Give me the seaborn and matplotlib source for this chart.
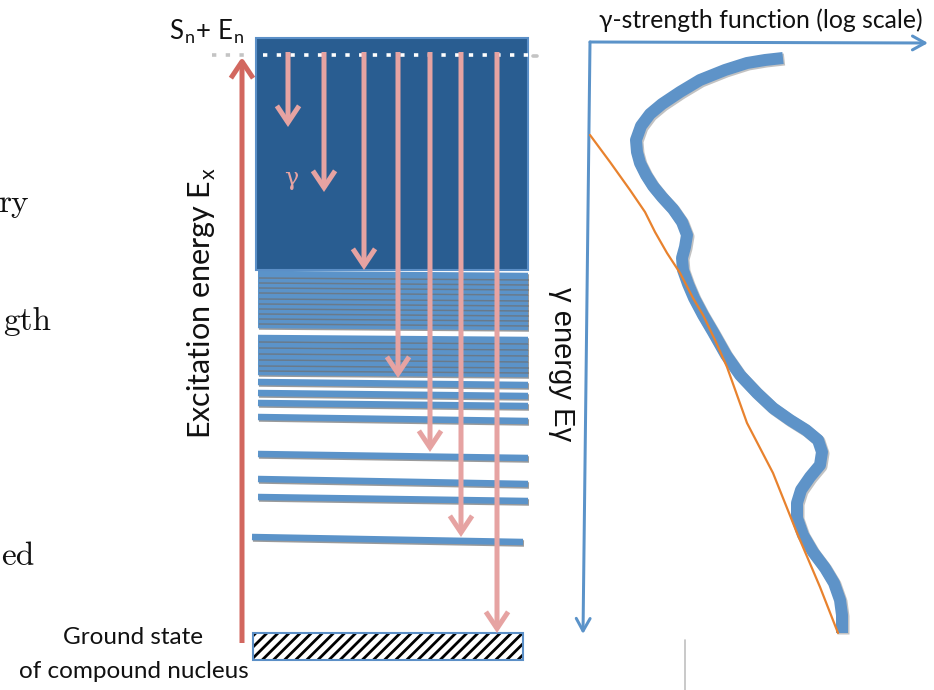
import numpy as np
import pandas as pd
import matplotlib
matplotlib.use("Agg")
import matplotlib.pyplot as plt
from matplotlib.patches import Rectangle, FancyArrowPatch
import seaborn as sns

sns.set_theme(style="white")
plt.rcParams["mathtext.fontset"] = "cm"
plt.rcParams["hatch.linewidth"] = 2.0
SANS = ["Lato", "DejaVu Sans"]

# ---------------- data ----------------
# discrete level energies (pixel-space y of left end) and their slight tilt
level_y = [274, 279, 284, 289, 295, 300, 305, 310, 315, 320, 325,
           338, 344, 350, 356, 362, 367, 372, 382, 393, 403, 417,
           454, 479, 497, 537]
level_tilt = [2, 2, 2, 2, 2, 2, 2, 2, 2, 2, 2,
              2, 2, 2, 2, 2, 2, 2, 3, 3, 3, 4,
              4, 5, 4, 5]
# gamma transitions: x position and final level
gamma_x = [288, 324, 364, 398, 430, 461, 497]
gamma_end = [127, 192, 270, 378, 452, 537, 633]

# gamma-strength function (thick) and smooth reference (thin)
gsf_x = [783, 765, 747, 725, 700, 680, 662, 650, 641, 636, 637, 640, 646, 653,
         662, 673, 682, 687, 685, 682, 683, 688, 694, 703, 713, 726, 740, 757,
         773, 790, 806, 818, 822, 820, 810, 801, 797, 797, 803, 813, 825, 834,
         840, 842, 842]
gsf_y = [58, 60, 63, 70, 80, 92, 104, 114, 126, 140, 152, 163, 175, 186,
         197, 209, 222, 235, 247, 258, 270, 284, 298, 315, 332, 355, 375, 393,
         408, 420, 430, 440, 452, 465, 477, 490, 503, 518, 535, 552, 568, 583,
         600, 615, 633]
ref_x = [590, 610, 630, 645, 655, 667, 680, 693, 703, 715, 727, 747, 773, 797, 820, 838]
ref_y = [135, 162, 190, 212, 232, 253, 273, 298, 315, 340, 367, 423, 473, 533, 587, 633]

# partially visible words at the left edge
edge_words = ["ry", "gth", "ed"]

# ---------------- figure ----------------
fig = plt.figure(figsize=(9.34, 6.90), dpi=100)
ax = fig.add_axes([0, 0, 1, 1])
ax.set_xlim(0, 934)
ax.set_ylim(690, 0)
ax.axis("off")

PX = 0.72  # points per pixel
LEVEL_BLUE = "#5b93c9"
BOX_BLUE = "#295d91"
PINK = "#e6a3a2"
RED = "#d2675f"

for word, xr, yb in zip(edge_words, [29, 51, 34], [212, 330, 565]):
    ax.text(xr, yb, word, ha="right", va="baseline",
            fontsize=24, color="#111111", family=["cmr10", "DejaVu Serif"])

# levels (drawn bottom to top so shadows show as separators)
for y, t in sorted(zip(level_y, level_tilt), reverse=True):
    x0, x1 = (252, 523) if y > 530 else (258, 528)
    ax.plot([x0 + 1, x1 + 1], [y + 1.5, y + t + 1.5], color="#707070",
            lw=6.5 * PX, alpha=0.7, solid_capstyle="butt", zorder=2)
    ax.plot([x0, x1], [y, y + t], color=LEVEL_BLUE, lw=6.5 * PX,
            solid_capstyle="butt", zorder=2)

# quasi-continuum box
ax.add_patch(Rectangle((256, 38), 272, 232, facecolor=BOX_BLUE,
                       edgecolor="#5b8fc7", lw=1.5, zorder=3))
# S_n + E_n dotted line
ax.plot([263, 530], [55, 55], color="white", lw=2.6, ls=(0, (1.2, 2.6)),
        dash_capstyle="butt", zorder=4)
ax.plot([212, 252], [55, 55], color="#c4c4c4", lw=2.6, ls=(0, (1.2, 2.6)), zorder=1)
ax.plot([533, 537], [56, 56], color="#c4c4c4", lw=2.6, zorder=1)

# ground state
ax.add_patch(Rectangle((253, 633), 270, 27, facecolor="white", edgecolor="black",
                       hatch="///", lw=0, zorder=3))
ax.add_patch(Rectangle((253, 633), 270, 27, facecolor="none", edgecolor="#5b8fc7",
                       lw=1.5, zorder=4))

# gamma arrows
for gx, ge in zip(gamma_x, gamma_end):
    arr = FancyArrowPatch((gx, 52), (gx, ge), arrowstyle="->,head_length=12,head_width=8",
                          mutation_scale=1, lw=5 * PX, color=PINK, shrinkA=0, shrinkB=0,
                          joinstyle="miter", capstyle="butt", zorder=5)
    ax.add_patch(arr)
ax.text(291, 178, "γ", color=PINK, fontsize=17, ha="center", va="center",
        family=["DejaVu Serif"], zorder=6)

# excitation energy arrow
ax.add_patch(FancyArrowPatch((242, 643), (242, 57), arrowstyle="->,head_length=12,head_width=8",
                             mutation_scale=1, lw=5 * PX, color=RED, shrinkA=0, shrinkB=0,
                             capstyle="butt", zorder=5))
ax.text(202, 303, r"Excitation energy E$_\mathregular{x}$", rotation=90, ha="center",
        va="center", fontsize=22, family=SANS, color="#111111")
ax.text(207, 32, r"S$_\mathregular{n}$+ E$_\mathregular{n}$", ha="center", va="center",
        fontsize=18.5, family=SANS, color="#111111")
ax.text(133, 638, "Ground state", ha="center", va="center", fontsize=17.5,
        family=SANS, color="#111111")
ax.text(134, 672, "of compound nucleus", ha="center", va="center", fontsize=17.5,
        family=SANS, color="#111111")

# right panel axes
AXBLUE = "#5b93c9"
ax.add_patch(FancyArrowPatch((590, 42), (928, 43), arrowstyle="->,head_length=9,head_width=5",
                             mutation_scale=1, lw=3 * PX, color=AXBLUE, shrinkA=0, shrinkB=0,
                             zorder=5))
ax.add_patch(FancyArrowPatch((590, 42), (583, 634), arrowstyle="->,head_length=9,head_width=5",
                             mutation_scale=1, lw=3 * PX, color=AXBLUE, shrinkA=0, shrinkB=0,
                             zorder=5))
ax.text(761, 20, "γ-strength function (log scale)", ha="center", va="center",
        fontsize=17.8, family=SANS, color="#111111")
ax.text(562, 364, "γ energy Eγ", rotation=-90, ha="center", va="center",
        fontsize=21, family=["Liberation Sans", "DejaVu Sans"], color="#111111")

# curves
df_g = pd.DataFrame({"x": gsf_x, "y": gsf_y})
df_r = pd.DataFrame({"x": ref_x, "y": ref_y})
sns.lineplot(x=np.array(gsf_x) + 1.5, y=np.array(gsf_y) + 1.5, sort=False, estimator=None,
             ax=ax, color="#9a9a9a", lw=12 * PX, alpha=0.6, zorder=3, solid_capstyle="butt")
sns.lineplot(data=df_g, x="x", y="y", sort=False, estimator=None, ax=ax,
             color="#5e93c8", lw=12 * PX, zorder=4, solid_capstyle="butt")
sns.lineplot(data=df_r, x="x", y="y", sort=False, estimator=None, ax=ax,
             color="#e8822e", lw=1.6, zorder=5)

ax.plot([685, 685], [640, 690], color="#c0c0c0", lw=1.2)
ax.set_xlim(0, 934)
ax.set_ylim(690, 0)
ax.axis("off")
if ax.get_legend():
    ax.get_legend().remove()

fig.savefig("out.png", dpi=100)
